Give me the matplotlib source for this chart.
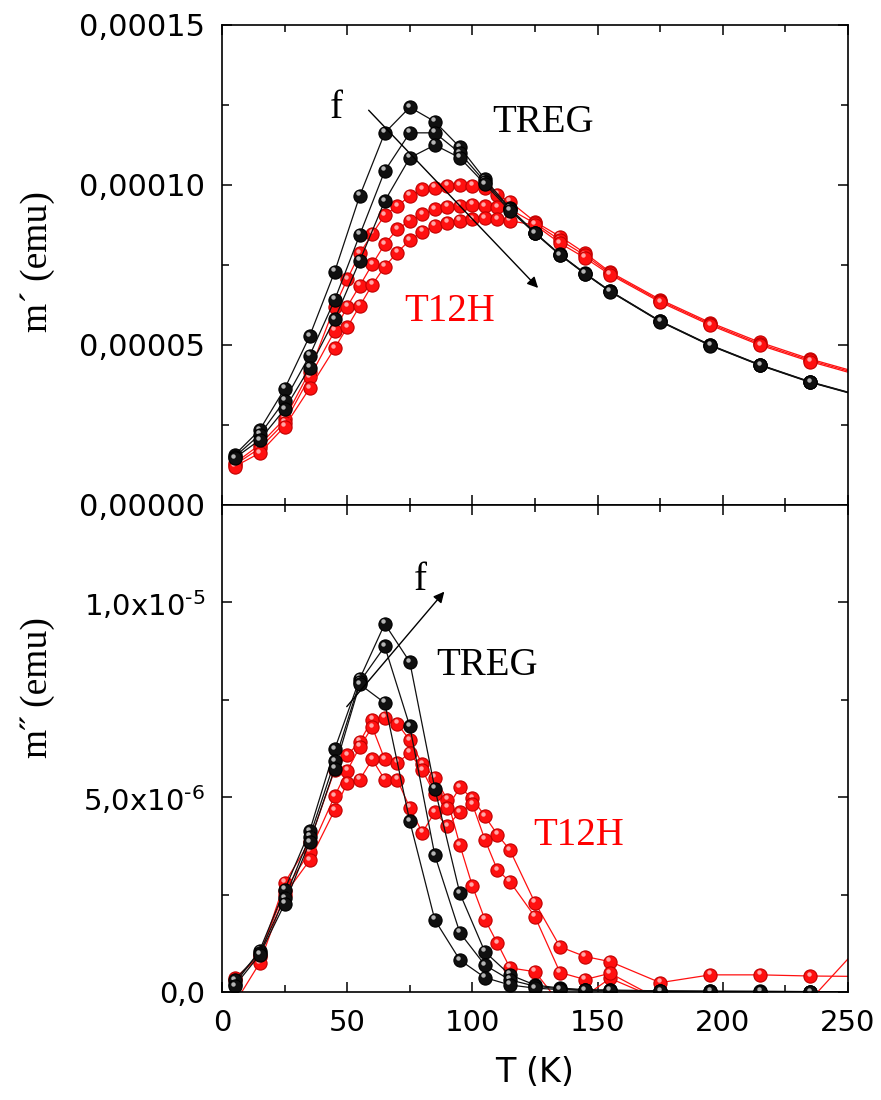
import numpy as np
import matplotlib
matplotlib.use("Agg")
import matplotlib.pyplot as plt
from matplotlib.transforms import ScaledTranslation
from matplotlib.ticker import FixedLocator, MultipleLocator, FuncFormatter

# temperatures (K)
T_black = [5, 15, 25, 35, 45, 55, 65, 75, 85, 95, 105, 115, 125, 135, 145, 155,
           175, 195, 215, 235, 255]
T_red = [5, 15, 25, 35, 45, 50, 55, 60, 65, 70, 75, 80, 85, 90, 95, 100, 105,
         110, 115, 125, 135, 145, 155, 175, 195, 215, 235, 255]

# m' (units of 1e-5 emu), TREG, three frequencies
treg_re_1 = [1.56, 2.34, 3.63, 5.28, 7.29, 9.66, 11.63, 12.43, 11.98, 11.18, 10.18,
             9.27, 8.51, 7.83, 7.24, 6.69, 5.75, 5.00, 4.38, 3.85, 3.42]
treg_re_2 = [1.50, 2.19, 3.26, 4.67, 6.41, 8.44, 10.44, 11.63, 11.63, 11.00, 10.10,
             9.25, 8.50, 7.82, 7.23, 6.68, 5.74, 4.99, 4.37, 3.84, 3.41]
treg_re_3 = [1.46, 2.03, 2.99, 4.29, 5.81, 7.63, 9.50, 10.85, 11.25, 10.85, 10.03,
             9.20, 8.49, 7.81, 7.22, 6.67, 5.73, 4.98, 4.36, 3.83, 3.40]

# m' (units of 1e-5 emu), T12H
t12h_re_1 = [1.30, 1.88, 2.69, 4.17, 6.20, 7.05, 7.86, 8.47, 9.06, 9.34, 9.66, 9.86,
             9.92, 9.97, 10.00, 9.97, 9.90, 9.69, 9.48, 8.85, 8.39, 7.87, 7.28, 6.42,
             5.70, 5.08, 4.56, 4.12]
t12h_re_2 = [1.25, 1.77, 2.57, 3.99, 5.44, 6.20, 6.85, 7.52, 8.15, 8.62, 8.88, 9.08,
             9.24, 9.32, 9.35, 9.38, 9.34, 9.30, 9.24, 8.80, 8.28, 7.80, 7.24, 6.38,
             5.66, 5.03, 4.52, 4.08]
t12h_re_3 = [1.20, 1.62, 2.45, 3.65, 4.90, 5.55, 6.22, 6.88, 7.45, 7.89, 8.28, 8.54,
             8.72, 8.82, 8.88, 8.93, 8.96, 8.93, 8.88, 8.75, 8.18, 7.72, 7.20, 6.34,
             5.62, 4.99, 4.48, 4.04]

# m'' (units of 1e-6 emu), TREG
treg_im_1 = [0.20, 1.06, 2.62, 4.13, 6.23, 8.04, 9.45, 8.47, 5.22, 2.53, 1.03, 0.44,
             0.18, 0.10, 0.06, 0.05, 0.03, 0.02, 0.02, 0.01, 0.0]
treg_im_2 = [0.30, 1.00, 2.40, 3.98, 5.92, 7.96, 8.87, 6.82, 3.51, 1.52, 0.69, 0.31,
             0.15, 0.08, 0.05, 0.04, 0.02, 0.02, 0.01, 0.01, 0.0]
treg_im_3 = [0.15, 0.95, 2.26, 3.85, 5.73, 7.90, 7.42, 4.38, 1.85, 0.82, 0.37, 0.18,
             0.10, 0.06, 0.04, 0.03, 0.02, 0.01, 0.01, 0.0, 0.0]

# m'' (units of 1e-6 emu), T12H
t12h_im_1 = [0.35, 0.90, 2.80, 3.85, 5.70, 6.08, 6.42, 6.99, 7.04, 6.89, 6.46, 5.85,
             5.50, 4.94, 3.77, 2.72, 1.86, 1.25, 0.62, 0.52, -0.30, -0.10, 0.35, -0.20,
             -0.20, -0.20, -0.20, 1.20]
t12h_im_2 = [0.30, 0.95, 2.60, 3.60, 5.03, 5.68, 6.29, 6.80, 5.97, 5.88, 6.14, 5.69,
             5.08, 4.73, 5.25, 4.97, 4.51, 4.04, 3.64, 2.29, 1.16, 0.91, 0.78, 0.24,
             0.44, 0.44, 0.41, 0.40]
t12h_im_3 = [-0.30, 0.74, 2.50, 3.38, 4.67, 5.37, 5.45, 5.97, 5.45, 5.45, 4.73, 4.09,
             4.62, 4.26, 4.62, 4.82, 3.91, 3.13, 2.83, 1.93, 0.50, 0.32, 0.48, -0.20,
             -0.20, -0.20, -0.20, -0.20]

SERIF = ['Liberation Serif', 'DejaVu Serif']
plt.rcParams['font.family'] = ['DejaVu Sans']
plt.rcParams['mathtext.fontset'] = 'dejavusans'

fig = plt.figure(figsize=(8.81, 11), dpi=100)
ax1 = fig.add_axes([222 / 881, 1 - 505 / 1100, 626 / 881, 480 / 1100])
ax2 = fig.add_axes([222 / 881, 1 - 992 / 1100, 626 / 881, 487 / 1100])


def balls(ax, x, y, col, edge, hl):
    # line with shaded "sphere" markers
    ax.plot(x, y, '-', color=col, lw=0.9, marker='o', ms=9.5, mfc=col, mec=edge,
            mew=0.8)
    shift = ax.transData + ScaledTranslation(-1.2 / 72, 1.8 / 72, fig.dpi_scale_trans)
    ax.plot(x, y, 'o', ms=3.2, color=hl, mec='none', transform=shift, alpha=0.9)


RED, RED_E, RED_H = '#ff1010', '#c00000', '#ffb8b8'
BLK, BLK_E, BLK_H = '#101010', '#000000', '#c8c8c8'

for s in (t12h_re_1, t12h_re_2, t12h_re_3):
    balls(ax1, T_red, np.array(s) * 1e-5, RED, RED_E, RED_H)
for s in (treg_re_1, treg_re_2, treg_re_3):
    balls(ax1, T_black, np.array(s) * 1e-5, BLK, BLK_E, BLK_H)

for s in (t12h_im_1, t12h_im_2, t12h_im_3):
    balls(ax2, T_red, np.array(s) * 1e-6, RED, RED_E, RED_H)
for s in (treg_im_1, treg_im_2, treg_im_3):
    balls(ax2, T_black, np.array(s) * 1e-6, BLK, BLK_E, BLK_H)

for ax in (ax1, ax2):
    ax.set_xlim(0, 250)
    ax.xaxis.set_major_locator(MultipleLocator(50))
    ax.xaxis.set_minor_locator(MultipleLocator(25))
    ax.tick_params(which='both', direction='in', top=True, right=True, width=1.1,
                   labelsize=21, pad=12)
    ax.tick_params(which='major', length=7)
    ax.tick_params(which='minor', length=5)
    for sp in ax.spines.values():
        sp.set_linewidth(1.2)

ax1.set_ylim(0, 1.5e-4)
ax1.yaxis.set_major_locator(FixedLocator([0, 5e-5, 1e-4, 1.5e-4]))
ax1.yaxis.set_minor_locator(FixedLocator([2.5e-5, 7.5e-5, 1.25e-4]))
ax1.yaxis.set_major_formatter(FuncFormatter(lambda v, p: f"{v:.5f}".replace('.', ',')))
ax1.tick_params(axis='y', labelsize=22)
ax1.tick_params(labelbottom=False)

ax2.set_ylim(0, 1.25e-5)
ax2.yaxis.set_major_locator(FixedLocator([0, 5e-6, 1e-5]))
ax2.yaxis.set_minor_locator(FixedLocator([2.5e-6, 7.5e-6]))
ylabels2 = ['0,0', r'5,0x10$^{\text{-6}}$', r'1,0x10$^{\text{-5}}$']
ax2.yaxis.set_major_formatter(FuncFormatter(
    lambda v, p: ylabels2[int(round(v / 5e-6))] if round(v / 5e-6) < 3 else ''))
ax2.set_xlabel('T (K)', fontsize=24, labelpad=14)

# axis titles
fig.text(38 / 881, 1 - 262 / 1100, 'm\u00b4 (emu)', rotation=90, ha='center',
         va='center', fontsize=27, family=SERIF)
fig.text(38 / 881, 1 - 688 / 1100, 'm\u02dd (emu)', rotation=90, ha='center',
         va='center', fontsize=27, family=SERIF)

# annotations, top panel
ax1.text(45.5, 12.1e-5, 'f', fontsize=28, family=SERIF, ha='center')
ax1.text(108, 11.66e-5, 'TREG', fontsize=28, family=SERIF, color='black')
ax1.text(72.7, 5.75e-5, 'T12H', fontsize=28, family=SERIF, color='#ff0000')
ax1.annotate('', xy=(127, 6.72e-5), xytext=(57.8, 12.4e-5),
             arrowprops=dict(arrowstyle='-|>', color='black', lw=1,
                             mutation_scale=16))

# annotations, bottom panel
ax2.text(79, 10.31e-6, 'f', fontsize=28, family=SERIF, ha='center')
ax2.text(85.7, 8.13e-6, 'TREG', fontsize=28, family=SERIF, color='black')
ax2.text(124.2, 3.77e-6, 'T12H', fontsize=28, family=SERIF, color='#ff0000')
ax2.annotate('', xy=(89.5, 10.33e-6), xytext=(49.1, 7.27e-6),
             arrowprops=dict(arrowstyle='-|>', color='black', lw=1,
                             mutation_scale=16))

fig.savefig('out.png', dpi=100)
